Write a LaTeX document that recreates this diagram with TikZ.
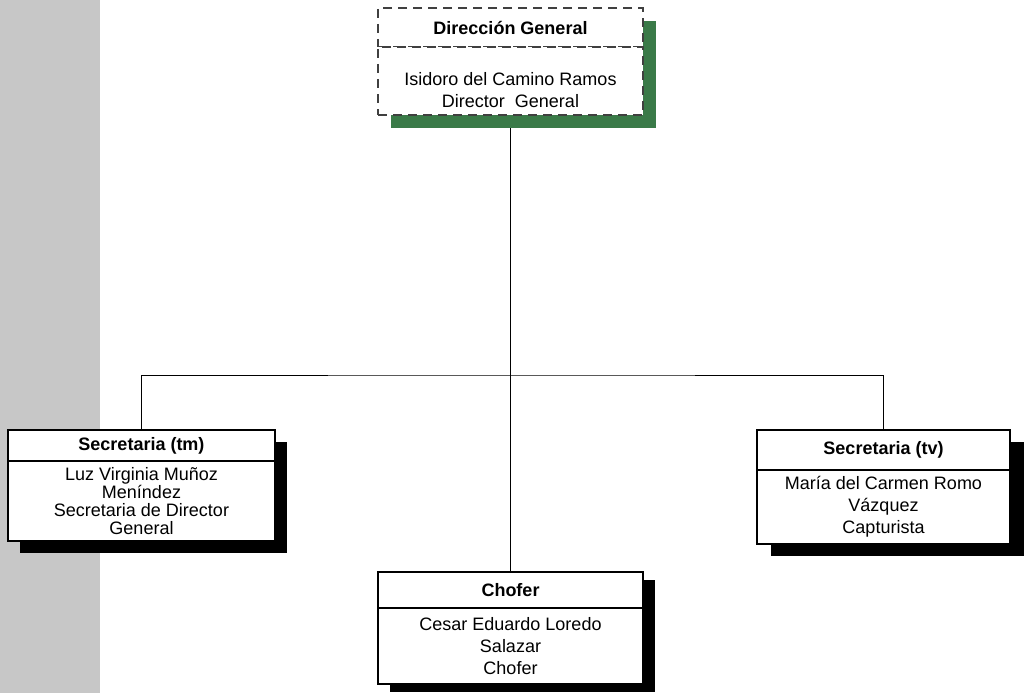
\documentclass[tikz,border=0pt]{standalone}
\usepackage{fontspec}
\setmainfont{Liberation Sans}
\usetikzlibrary{positioning,backgrounds}
\definecolor{dggreen}{RGB}{58,122,72}

\begin{document}
\begin{tikzpicture}
	[
	x=1pt, y=-1pt,
	every node/.style={inner sep=0pt,outer sep=0pt,align=center},
	head/.style={rectangle,draw,line width=1.3pt,fill=white,font=\fontsize{18}{18}\selectfont\bfseries},
	body/.style={rectangle,draw,line width=1.3pt,fill=white,font=\fontsize{18}{#1}\selectfont},
	dashbox/.style={draw=black!75,dash pattern=on 9pt off 6pt},
	link/.style={line width=1pt},
	shade/.style={fill=black},
	]
	\useasboundingbox (0,0) rectangle (1025,693);

	% Direccion General
	\node[head,dashbox,minimum width=265pt,minimum height=39pt] (dg) at (510.5,27.5) {Dirección General};
	\node[body=22,dashbox,minimum width=265pt,minimum height=68pt,text height=54pt,below=0pt of dg] (dgb) {Isidoro del Camino Ramos\\Director~ General};

	% Secretaria (tm)
	\node[head,minimum width=267pt,minimum height=31pt] (tm) at (141.5,445.5) {Secretaria (tm)};
	\node[body=18,minimum width=267pt,minimum height=80pt,below=0pt of tm] (tmb) {Luz Virginia Muñoz\\Meníndez\\Secretaria de Director\\General};

	% Chofer
	\node[head,minimum width=265pt,minimum height=36pt] (ch) at (510.5,590) {Chofer};
	\node[body=22,minimum width=265pt,minimum height=76pt,below=0pt of ch] (chb) {Cesar Eduardo Loredo\\Salazar\\Chofer};

	% Secretaria (tv)
	\node[head,minimum width=253pt,minimum height=40pt] (tv) at (883.5,450) {Secretaria (tv)};
	\node[body=22,minimum width=253pt,minimum height=74pt,below=0pt of tv] (tvb) {María del Carmen Romo\\Vázquez\\Capturista};

	\coordinate (bus) at (510.5,375);

	\begin{scope}[on background layer]
		\fill[black!22] (0,0) rectangle (100,693);
		\draw[link] (dgb.south) -- (ch.north);
		\draw[link] (tm.north) |- (bus) -| (tv.north);
		\fill[dggreen] ([xshift=13pt,yshift=-13pt]dg.north east) rectangle ([xshift=13pt,yshift=-13pt]dgb.south west);
		\fill[shade] ([xshift=12pt,yshift=-12pt]tm.north east) rectangle ([xshift=12pt,yshift=-12pt]tmb.south west);
		\fill[shade] ([xshift=12pt,yshift=-8pt]ch.north east) rectangle ([xshift=12pt,yshift=-8pt]chb.south west);
		\fill[shade] ([xshift=14pt,yshift=-12pt]tv.north east) rectangle ([xshift=14pt,yshift=-12pt]tvb.south west);
	\end{scope}
\end{tikzpicture}
\end{document}
